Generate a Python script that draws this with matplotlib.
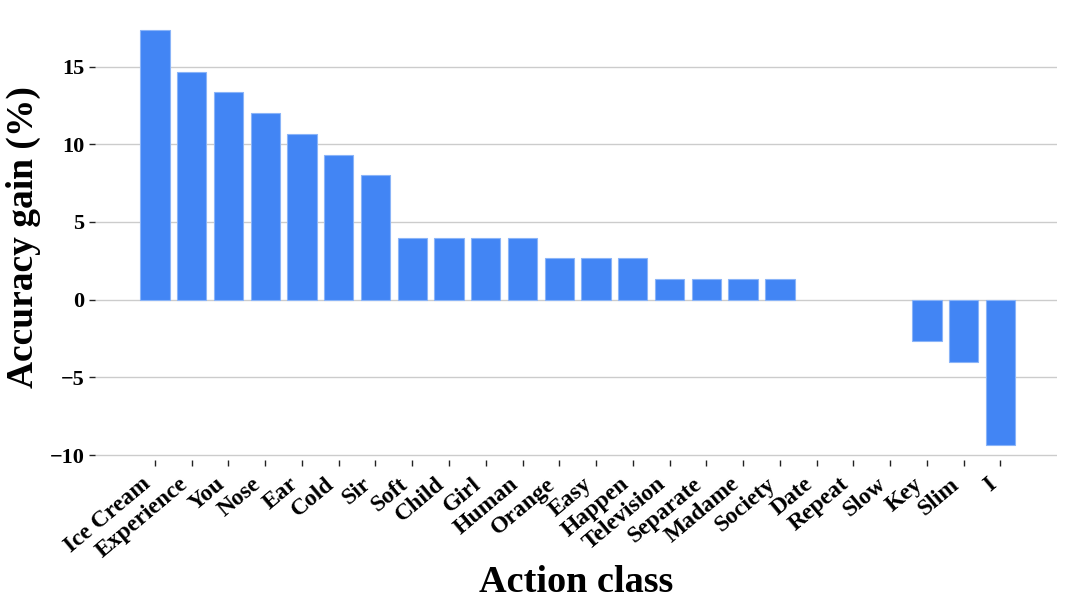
import numpy as np
import matplotlib.pyplot as plt

plt.rcParams['font.family'] = ['Liberation Serif', 'DejaVu Serif']
plt.rcParams['font.weight'] = 'bold'

classes = ['Ice Cream', 'Experience', 'You', 'Nose', 'Ear', 'Cold', 'Sir', 'Soft',
           'Child', 'Girl', 'Human', 'Orange', 'Easy', 'Happen', 'Television',
           'Separate', 'Madame', 'Society', 'Date', 'Repeat', 'Slow', 'Key', 'Slim', 'I']
gain = [17.33, 14.67, 13.33, 12.0, 10.67, 9.33, 8.0, 4.0,
        4.0, 4.0, 4.0, 2.67, 2.67, 2.67, 1.33,
        1.33, 1.33, 1.33, 0.0, 0.0, 0.0, -2.67, -4.0, -9.33]
yticks = [-10, -5, 0, 5, 10, 15]

fig = plt.figure(figsize=(10.8, 6.09), dpi=100, facecolor='w')
ax = fig.add_axes([0.088, 0.245, 0.891, 0.73])

x = np.arange(len(classes))
edges = ['#8AB4F8' if g != 0 else 'none' for g in gain]
ax.bar(x, gain, width=0.8, color='#4285F4', edgecolor=edges, linewidth=0.8, zorder=3)

ax.set_xlim(-1.63, 24.55)
ax.set_ylim(-10.3, 18.3)
ax.set_yticks(yticks)
ax.set_yticklabels([str(v).replace('-', '\u2212') for v in yticks], fontsize=16, fontweight='bold')
ax.yaxis.grid(True, color='#cccccc', linewidth=1.0, zorder=0)
ax.set_axisbelow(True)
for s in ax.spines.values():
    s.set_visible(False)

ax.set_xticks(x)
ax.set_xticklabels(classes, rotation=40, ha='right', fontsize=17, fontweight='bold')
ax.tick_params(axis='both', length=4, width=1, color='#222222')
ax.tick_params(axis='x', pad=6)

ax.set_ylabel('Accuracy gain (%)', fontsize=27, fontweight='bold', labelpad=6)
ax.set_xlabel('Action class', fontsize=27.5, fontweight='bold', labelpad=2)

fig.savefig('out.png', dpi=100)
